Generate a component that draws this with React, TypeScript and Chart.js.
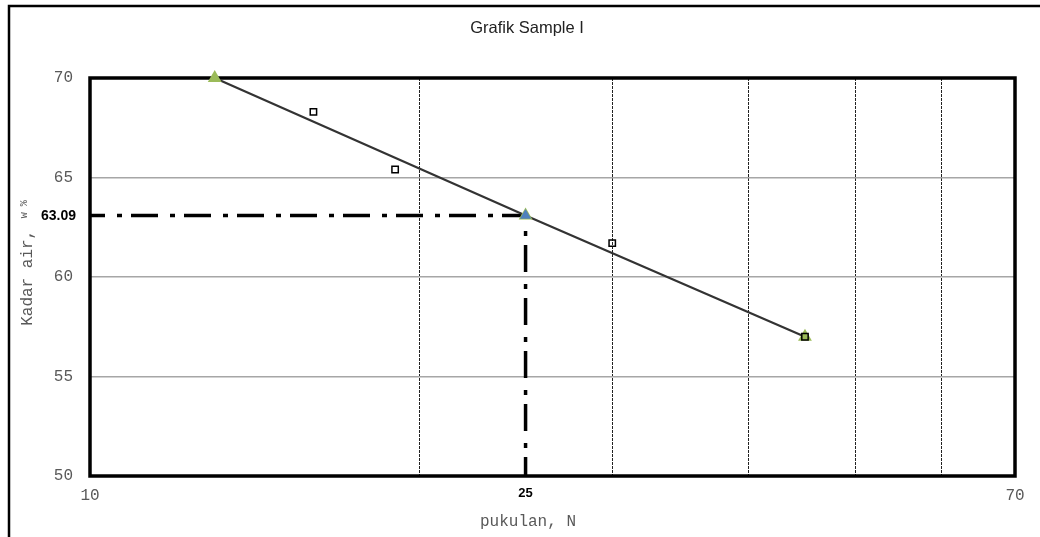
import React, { useEffect, useRef } from "react";
import { Chart, registerables } from "chart.js";

Chart.register(...registerables);

const trendN = [13, 25, 45];
const trendW = [70, 63.09, 57];
const sampleN = [16, 19, 30, 45];
const sampleW = [68.3, 65.4, 61.7, 57.0];
const targetN = 25;
const targetW = 63.09;
const yTickValues = [50, 55, 60, 65, 70];
const xGridValues = [10, 20, 30, 40, 50, 60, 70];
const xLabelled = [10, 70];
const titleText = "Grafik Sample I";
const xTitle = "pukulan, N";
const yTitleMain = "Kadar air, ";
const yTitleSub = "w %";

const MONO = "'Liberation Mono', 'DejaVu Sans Mono', monospace";
const SANS = "'Liberation Sans', Arial, sans-serif";

const decorPlugin = {
  id: "decor",
  beforeDraw(chart: any) {
    const ctx = chart.ctx;
    ctx.save();
    ctx.fillStyle = "#fff";
    ctx.fillRect(0, 0, chart.width, chart.height);
    ctx.strokeStyle = "#000";
    ctx.lineWidth = 2.5;
    ctx.beginPath();
    ctx.moveTo(9, chart.height + 5);
    ctx.lineTo(9, 6);
    ctx.lineTo(chart.width + 5, 6);
    ctx.stroke();
    ctx.restore();
  },
  beforeDatasetsDraw(chart: any) {
    const ctx = chart.ctx;
    const a = chart.chartArea;
    ctx.save();
    ctx.strokeStyle = "#000";
    ctx.lineWidth = 3.5;
    ctx.strokeRect(a.left, a.top, a.right - a.left, a.bottom - a.top);
    ctx.restore();
  },
  afterDraw(chart: any) {
    const ctx = chart.ctx;
    const xs = chart.scales.x;
    const ys = chart.scales.y;
    ctx.save();
    ctx.fillStyle = "#222";
    ctx.font = `16.5px ${SANS}`;
    ctx.textAlign = "center";
    ctx.textBaseline = "middle";
    ctx.fillText(titleText, 527, 28);

    ctx.fillStyle = "#000";
    ctx.font = `bold 14px ${SANS}`;
    ctx.textAlign = "right";
    ctx.fillText(String(targetW), 76, ys.getPixelForValue(targetW) + 1);
    ctx.font = `bold 13px ${SANS}`;
    ctx.textAlign = "center";
    ctx.textBaseline = "top";
    ctx.fillText(String(targetN), xs.getPixelForValue(targetN), 487);

    ctx.fillStyle = "#595959";
    ctx.font = `16px ${MONO}`;
    ctx.textBaseline = "middle";
    ctx.fillText(xTitle, 528, 522);

    ctx.translate(28, 0);
    ctx.rotate(-Math.PI / 2);
    ctx.textAlign = "left";
    ctx.font = `16px ${MONO}`;
    const mainW = ctx.measureText(yTitleMain).width;
    ctx.font = `10px ${MONO}`;
    const subW = ctx.measureText(yTitleSub).width;
    const start = -(264 + (mainW + subW) / 2);
    ctx.font = `16px ${MONO}`;
    ctx.fillText(yTitleMain, start, 0);
    ctx.font = `10px ${MONO}`;
    ctx.fillText(yTitleSub, start + mainW + 2, -4);
    ctx.restore();
  },
};

export default function App() {
  const ref = useRef<HTMLCanvasElement | null>(null);
  useEffect(() => {
    if (!ref.current) return;
    const chart = new Chart(ref.current, {
      type: "line",
      data: {
        datasets: [
          {
            label: "target",
            data: [{ x: targetN, y: targetW }],
            showLine: false,
            clip: false,
            pointStyle: "triangle",
            pointRadius: 6.5,
            backgroundColor: "#4f81bd",
            borderColor: "#4f81bd",
            borderWidth: 0,
            order: 1,
          },
          {
            label: "samples",
            data: sampleN.map((n, i) => ({ x: n, y: sampleW[i] })),
            showLine: false,
            clip: false,
            pointStyle: "rect",
            pointRadius: 4.5,
            backgroundColor: "rgba(0,0,0,0)",
            borderColor: "#000",
            pointBorderWidth: 1.5,
            order: 2,
          },
          {
            label: "trend",
            data: trendN.map((n, i) => ({ x: n, y: trendW[i] })),
            clip: false,
            borderColor: "#333",
            borderWidth: 2.2,
            pointStyle: "triangle",
            pointRadius: 8,
            pointBackgroundColor: "#9bbb59",
            pointBorderColor: "#9bbb59",
            pointBorderWidth: 0,
            order: 3,
          },
          {
            label: "guide",
            data: [
              { x: 10, y: targetW },
              { x: targetN, y: targetW },
              { x: targetN, y: 50 },
            ],
            borderColor: "#000",
            borderWidth: 3.5,
            borderDash: [27, 12, 5, 9],
            borderDashOffset: 12,
            pointRadius: 0,
            order: 4,
          },
        ],
      },
      options: {
        animation: false,
        responsive: true,
        maintainAspectRatio: false,
        layout: { padding: { top: 78, right: 25, left: 0, bottom: 0 } },
        plugins: {
          legend: { display: false },
          title: { display: false },
          tooltip: { enabled: false },
        },
        scales: {
          x: {
            type: "logarithmic",
            min: 10,
            max: 70,
            afterBuildTicks: (scale: any) => {
              scale.ticks = xGridValues.map((v) => ({ value: v }));
            },
            afterFit: (scale: any) => {
              scale.height = 61;
            },
            border: { display: false, dash: [3, 1] },
            grid: {
              drawTicks: false,
              color: (c: any) =>
                c.tick && (c.tick.value === 10 || c.tick.value === 70) ? "rgba(0,0,0,0)" : "#222",
              lineWidth: 1,
            },
            ticks: {
              autoSkip: false,
              maxRotation: 0,
              padding: 10,
              color: "#595959",
              font: { family: MONO, size: 16 },
              callback: (v: any) => (xLabelled.includes(Number(v)) ? String(v) : ""),
            },
          },
          y: {
            type: "linear",
            min: 50,
            max: 70,
            afterBuildTicks: (scale: any) => {
              scale.ticks = yTickValues.map((v) => ({ value: v }));
            },
            afterFit: (scale: any) => {
              scale.width = 90;
            },
            border: { display: false },
            grid: {
              drawTicks: false,
              color: (c: any) =>
                c.tick && (c.tick.value === 50 || c.tick.value === 70) ? "rgba(0,0,0,0)" : "#a6a6a6",
              lineWidth: 1.5,
            },
            ticks: {
              padding: 17,
              color: "#595959",
              font: { family: MONO, size: 16 },
              callback: (v: any) => String(v),
            },
          },
        },
      } as any,
      plugins: [decorPlugin],
    });
    return () => chart.destroy();
  }, []);
  return (
    <div style={{ position: "fixed", left: 0, top: 0, width: 1040, height: 537 }}>
      <canvas ref={ref} />
    </div>
  );
}
